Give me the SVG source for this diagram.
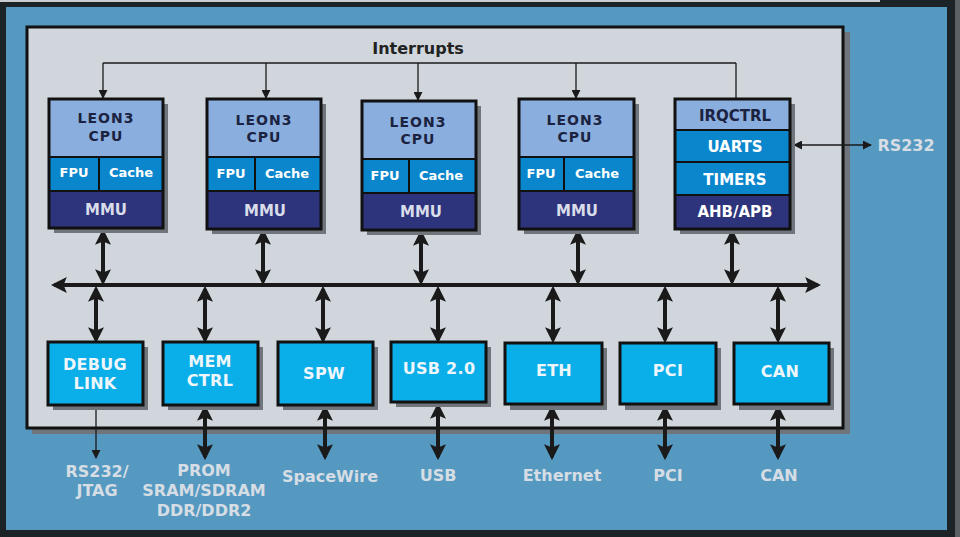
<svg xmlns="http://www.w3.org/2000/svg" width="960" height="537" viewBox="0 0 960 537">
<defs>
<style>
.t{font-family:"DejaVu Sans","Liberation Sans",Arial,sans-serif;font-weight:bold;text-anchor:middle}
.box{stroke:#111;stroke-width:3}
.sh{fill:#6f757b}
.cpuTop{fill:#8aaede}
.fpu{fill:#0a86cc}
.mmu{fill:#2d347c}
.per{fill:#0aaee8}
.dk{fill:#1b2340;font-size:14px;letter-spacing:1px}
.wt{fill:#ffffff;font-size:13px}
.mt{fill:#d9dde9;font-size:15px}
.pt{fill:#eef6fb;font-size:16px;letter-spacing:0.3px}
.lb{fill:#d6dde4;font-size:16px}
.thin{stroke:#1a1a1a;stroke-width:1.3;fill:none}
.thick{stroke:#1a1a1a;stroke-width:4;fill:none}
</style>
<marker id="a" viewBox="0 0 10 10" refX="9" refY="5" markerWidth="9" markerHeight="9" markerUnits="userSpaceOnUse" orient="auto-start-reverse"><path d="M0,0 L10,5 L0,10 z" fill="#1a1a1a"/></marker>
<marker id="A" viewBox="0 0 10 10" refX="8" refY="5" markerWidth="4" markerHeight="4" orient="auto-start-reverse"><path d="M0,0 L10,5 L0,10 L2,5 z" fill="#1a1a1a"/></marker>
</defs>
<rect width="960" height="537" fill="#1c2327"/>
<rect x="0" y="0" width="880" height="2" fill="#c9cdd0"/>
<rect x="955" y="0" width="5" height="537" fill="#5b6166"/>
<rect x="6" y="7" width="941" height="523" fill="#5599c0"/>
<g id="panel">
<rect x="32" y="32" width="818" height="402" class="sh"/>
<rect x="27" y="27" width="816" height="401" fill="#d0d6dc" stroke="#111" stroke-width="3"/>
</g>
<text class="t" x="418" y="54" fill="#222" font-size="16">Interrupts</text>
<g id="connectors">
<polyline class="thin" points="103,63 736,63"/>
<line class="thin" x1="736" y1="63" x2="736" y2="99"/>
<line class="thin" x1="103" y1="63" x2="103" y2="98" marker-end="url(#a)"/>
<line class="thin" x1="266" y1="63" x2="266" y2="98" marker-end="url(#a)"/>
<line class="thin" x1="418" y1="63" x2="418" y2="100" marker-end="url(#a)"/>
<line class="thin" x1="576" y1="63" x2="576" y2="98" marker-end="url(#a)"/>
<line class="thick" x1="54" y1="285" x2="818" y2="285" marker-start="url(#A)" marker-end="url(#A)"/>
<line class="thick" x1="103" y1="232" x2="103" y2="282" marker-start="url(#A)" marker-end="url(#A)"/>
<line class="thick" x1="263" y1="232" x2="263" y2="282" marker-start="url(#A)" marker-end="url(#A)"/>
<line class="thick" x1="421" y1="233" x2="421" y2="282" marker-start="url(#A)" marker-end="url(#A)"/>
<line class="thick" x1="578" y1="232" x2="578" y2="282" marker-start="url(#A)" marker-end="url(#A)"/>
<line class="thick" x1="732" y1="232" x2="732" y2="282" marker-start="url(#A)" marker-end="url(#A)"/>
<line class="thick" x1="96" y1="289" x2="96" y2="340" marker-start="url(#A)" marker-end="url(#A)"/>
<line class="thick" x1="205" y1="289" x2="205" y2="340" marker-start="url(#A)" marker-end="url(#A)"/>
<line class="thick" x1="323" y1="289" x2="323" y2="340" marker-start="url(#A)" marker-end="url(#A)"/>
<line class="thick" x1="438" y1="289" x2="438" y2="340" marker-start="url(#A)" marker-end="url(#A)"/>
<line class="thick" x1="553" y1="289" x2="553" y2="340" marker-start="url(#A)" marker-end="url(#A)"/>
<line class="thick" x1="665" y1="289" x2="665" y2="340" marker-start="url(#A)" marker-end="url(#A)"/>
<line class="thick" x1="778" y1="289" x2="778" y2="340" marker-start="url(#A)" marker-end="url(#A)"/>
<line class="thin" x1="96" y1="406" x2="96" y2="458" marker-end="url(#a)"/>
<line class="thick" x1="205" y1="408" x2="205" y2="457" marker-start="url(#A)" marker-end="url(#A)"/>
<line class="thick" x1="325" y1="408" x2="325" y2="457" marker-start="url(#A)" marker-end="url(#A)"/>
<line class="thick" x1="438" y1="406" x2="438" y2="457" marker-start="url(#A)" marker-end="url(#A)"/>
<line class="thick" x1="552" y1="408" x2="552" y2="457" marker-start="url(#A)" marker-end="url(#A)"/>
<line class="thick" x1="665" y1="408" x2="665" y2="457" marker-start="url(#A)" marker-end="url(#A)"/>
<line class="thick" x1="778" y1="408" x2="778" y2="457" marker-start="url(#A)" marker-end="url(#A)"/>
<line class="thin" x1="794" y1="145" x2="871" y2="145" marker-start="url(#a)" marker-end="url(#a)"/>
</g>
<g id="cpu1">
<rect x="54" y="104" width="114" height="129" class="sh"/>
<rect x="49" y="99" width="114" height="58" class="cpuTop"/>
<rect x="49" y="157" width="50" height="34" class="fpu"/>
<rect x="99" y="157" width="64" height="34" class="fpu"/>
<rect x="49" y="191" width="114" height="37" class="mmu"/>
<line x1="49" y1="157" x2="163" y2="157" stroke="#111" stroke-width="2"/>
<line x1="49" y1="191" x2="163" y2="191" stroke="#111" stroke-width="2"/>
<line x1="99" y1="157" x2="99" y2="191" stroke="#111" stroke-width="2"/>
<rect x="49" y="99" width="114" height="129" fill="none" class="box"/>
<text class="t dk" x="106" y="123">LEON3</text><text class="t dk" x="106" y="141">CPU</text>
<text class="t wt" x="74" y="177">FPU</text><text class="t wt" x="131" y="177">Cache</text>
<text class="t mt" x="106" y="215">MMU</text>
</g>
<g id="cpu2">
<rect x="212" y="104" width="114" height="130" class="sh"/>
<rect x="207" y="99" width="114" height="58" class="cpuTop"/>
<rect x="207" y="157" width="48" height="34" class="fpu"/>
<rect x="255" y="157" width="66" height="34" class="fpu"/>
<rect x="207" y="191" width="114" height="38" class="mmu"/>
<line x1="207" y1="157" x2="321" y2="157" stroke="#111" stroke-width="2"/>
<line x1="207" y1="191" x2="321" y2="191" stroke="#111" stroke-width="2"/>
<line x1="255" y1="157" x2="255" y2="191" stroke="#111" stroke-width="2"/>
<rect x="207" y="99" width="114" height="130" fill="none" class="box"/>
<text class="t dk" x="264" y="125">LEON3</text><text class="t dk" x="264" y="142">CPU</text>
<text class="t wt" x="231" y="178">FPU</text><text class="t wt" x="287" y="178">Cache</text>
<text class="t mt" x="265" y="216">MMU</text>
</g>
<g id="cpu3">
<rect x="367" y="106" width="114" height="129" class="sh"/>
<rect x="362" y="101" width="114" height="58" class="cpuTop"/>
<rect x="362" y="159" width="47" height="34" class="fpu"/>
<rect x="409" y="159" width="67" height="34" class="fpu"/>
<rect x="362" y="193" width="114" height="37" class="mmu"/>
<line x1="362" y1="159" x2="476" y2="159" stroke="#111" stroke-width="2"/>
<line x1="362" y1="193" x2="476" y2="193" stroke="#111" stroke-width="2"/>
<line x1="409" y1="159" x2="409" y2="193" stroke="#111" stroke-width="2"/>
<rect x="362" y="101" width="114" height="129" fill="none" class="box"/>
<text class="t dk" x="418" y="127">LEON3</text><text class="t dk" x="418" y="144">CPU</text>
<text class="t wt" x="385" y="180">FPU</text><text class="t wt" x="441" y="180">Cache</text>
<text class="t mt" x="421" y="217">MMU</text>
</g>
<g id="cpu4">
<rect x="524" y="104" width="115" height="130" class="sh"/>
<rect x="519" y="99" width="115" height="58" class="cpuTop"/>
<rect x="519" y="157" width="45" height="34" class="fpu"/>
<rect x="564" y="157" width="70" height="34" class="fpu"/>
<rect x="519" y="191" width="115" height="38" class="mmu"/>
<line x1="519" y1="157" x2="634" y2="157" stroke="#111" stroke-width="2"/>
<line x1="519" y1="191" x2="634" y2="191" stroke="#111" stroke-width="2"/>
<line x1="564" y1="157" x2="564" y2="191" stroke="#111" stroke-width="2"/>
<rect x="519" y="99" width="115" height="130" fill="none" class="box"/>
<text class="t dk" x="575" y="125">LEON3</text><text class="t dk" x="575" y="142">CPU</text>
<text class="t wt" x="541" y="178">FPU</text><text class="t wt" x="597" y="178">Cache</text>
<text class="t mt" x="577" y="216">MMU</text>
</g>
<g id="irq">
<rect x="680" y="104" width="115" height="130" class="sh"/>
<rect x="675" y="99" width="115" height="31" class="cpuTop"/>
<rect x="675" y="130" width="115" height="32" class="fpu"/>
<rect x="675" y="162" width="115" height="33" class="fpu"/>
<rect x="675" y="195" width="115" height="34" class="mmu"/>
<line x1="675" y1="130" x2="790" y2="130" stroke="#111" stroke-width="2"/>
<line x1="675" y1="162" x2="790" y2="162" stroke="#111" stroke-width="2"/>
<line x1="675" y1="195" x2="790" y2="195" stroke="#111" stroke-width="2"/>
<rect x="675" y="99" width="115" height="130" fill="none" class="box"/>
<text class="t" x="735" y="121" fill="#1b2340" font-size="15">IRQCTRL</text>
<text class="t" x="735" y="152" fill="#fff" font-size="15">UARTS</text>
<text class="t" x="735" y="185" fill="#fff" font-size="15">TIMERS</text>
<text class="t" x="735" y="217" fill="#fff" font-size="15">AHB/APB</text>
</g>
<g id="debug">
<rect x="53" y="347" width="95" height="63" class="sh"/>
<rect x="48" y="342" width="95" height="63" class="per box"/>
<text class="t pt" x="95" y="370" fill="#d9ecf6">DEBUG</text><text class="t pt" x="95" y="389">LINK</text>
</g>
<g id="memctrl">
<rect x="168" y="347" width="95" height="63" class="sh"/>
<rect x="163" y="342" width="95" height="63" class="per box"/>
<text class="t pt" x="210" y="367">MEM</text><text class="t pt" x="210" y="386">CTRL</text>
</g>
<g id="spw">
<rect x="283" y="347" width="95" height="63" class="sh"/>
<rect x="278" y="342" width="95" height="63" class="per box"/>
<text class="t pt" x="324" y="379">SPW</text>
</g>
<g id="usb">
<rect x="396" y="347" width="95" height="60" class="sh"/>
<rect x="391" y="342" width="95" height="60" class="per box"/>
<text class="t pt" x="439" y="374">USB 2.0</text>
</g>
<g id="eth">
<rect x="510" y="348" width="97" height="62" class="sh"/>
<rect x="505" y="343" width="97" height="61" class="per box"/>
<text class="t pt" x="554" y="376">ETH</text>
</g>
<g id="pci">
<rect x="625" y="348" width="96" height="62" class="sh"/>
<rect x="620" y="343" width="96" height="61" class="per box"/>
<text class="t pt" x="668" y="376">PCI</text>
</g>
<g id="can">
<rect x="739" y="348" width="95" height="62" class="sh"/>
<rect x="734" y="343" width="95" height="61" class="per box"/>
<text class="t pt" x="780" y="377">CAN</text>
</g>
<g id="labels">
<text class="t lb" x="97" y="477">RS232/</text><text class="t lb" x="97" y="496">JTAG</text>
<text class="t lb" x="204" y="476">PROM</text><text class="t lb" x="204" y="496">SRAM/SDRAM</text><text class="t lb" x="204" y="516">DDR/DDR2</text>
<text class="t lb" x="330" y="482">SpaceWire</text>
<text class="t lb" x="438" y="481">USB</text>
<text class="t lb" x="562" y="481">Ethernet</text>
<text class="t lb" x="668" y="481">PCI</text>
<text class="t lb" x="779" y="481">CAN</text>
<text class="t lb" x="906" y="151">RS232</text>
</g>
</svg>
